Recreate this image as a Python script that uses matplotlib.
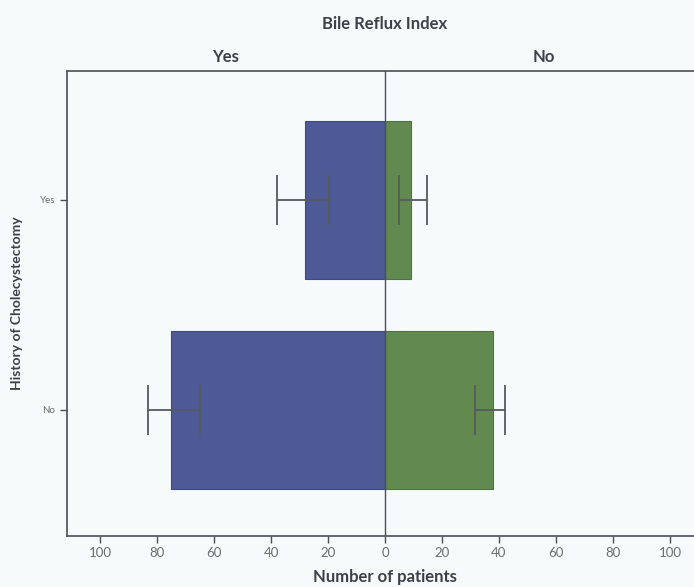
import numpy as np
import matplotlib.pyplot as plt

# --- data ---
categories = ["No", "Yes"]          # History of Cholecystectomy
bri_yes = [75, 28]                  # Bile Reflux Index = Yes (drawn to the left)
bri_yes_lo = [65, 19.5]
bri_yes_hi = [83, 37.8]
bri_no = [38, 9]                    # Bile Reflux Index = No (drawn to the right)
bri_no_lo = [31.5, 4.8]
bri_no_hi = [42, 14.8]
xticks = [-100, -80, -60, -40, -20, 0, 20, 40, 60, 80, 100]

bg = "#f6fafa"
line_col = "#4a4f57"
text_col = "#3c4048"
plt.rcParams["font.family"] = ["Lato", "DejaVu Sans"]

fig = plt.figure(figsize=(6.94, 5.87), dpi=100, facecolor=bg)
# axes runs past the right edge of the figure, as in the cropped original
ax = fig.add_axes([67 / 694, 1 - 536 / 587, 636 / 694, 465 / 587])
ax.set_facecolor(bg)

y = np.arange(len(categories))
left = -np.array(bri_yes, dtype=float)
right = np.array(bri_no, dtype=float)

ax.barh(y, left, height=0.75, color="#4e5a96", edgecolor="#3f4a7e", linewidth=0.8, zorder=2)
ax.barh(y, right, height=0.75, color="#628a50", edgecolor="#4f7340", linewidth=0.8, zorder=2)

# error bars
ax.errorbar(left, y, xerr=[left - (-np.array(bri_yes_hi)), -np.array(bri_yes_lo) - left],
            fmt="none", ecolor="#555a60", elinewidth=1.3, capsize=18, capthick=1.3, zorder=3)
ax.errorbar(right, y, xerr=[right - np.array(bri_no_lo), np.array(bri_no_hi) - right],
            fmt="none", ecolor="#555a60", elinewidth=1.3, capsize=18, capthick=1.3, zorder=3)

ax.axvline(0, color=line_col, linewidth=1.0, zorder=4)

ax.set_xlim(-111.6, 111.6)
ax.set_ylim(-0.6, 1.614)
ax.set_xticks(xticks)
ax.set_xticklabels([str(abs(t)) for t in xticks])
ax.set_yticks(y)
ax.set_yticklabels(categories)
ax.tick_params(axis="both", colors=line_col, labelcolor="#6a6e74", length=5, width=1)
ax.tick_params(axis="x", labelsize=9.5, pad=3)
ax.tick_params(axis="y", labelsize=7)

for s in ["left", "top", "bottom"]:
    ax.spines[s].set_color(line_col)
    ax.spines[s].set_linewidth(1.2)
ax.spines["right"].set_visible(False)

ax.set_xlabel("Number of patients", fontsize=12, fontweight="bold", color=text_col, labelpad=7)
ax.set_ylabel("History of Cholecystectomy", fontsize=10, fontweight="bold", color=text_col, labelpad=12)

# column headers
fig.text(385 / 694, 1 - 24 / 587, "Bile Reflux Index", ha="center", va="center",
         fontsize=12, fontweight="bold", color=text_col)
fig.text(226 / 694, 1 - 57 / 587, "Yes", ha="center", va="center",
         fontsize=12, fontweight="bold", color=text_col)
fig.text(544 / 694, 1 - 57 / 587, "No", ha="center", va="center",
         fontsize=12, fontweight="bold", color=text_col)

fig.savefig("out.png", dpi=100, facecolor=bg)
